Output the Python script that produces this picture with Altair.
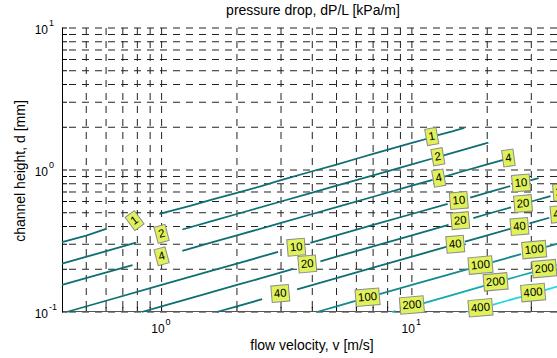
import altair as alt
import pandas as pd

# ---------------- values ----------------
levels = ["1", "2", "4", "10", "20", "40", "100", "200", "400"]

# contour segments: (flow velocity v [m/s], channel height d [mm])
seg_1 = [
    [(0.40, 0.310), (0.50, 0.345), (0.60, 0.385)],
    [(0.98, 0.490), (1.30, 0.560), (1.60, 0.620), (2.0, 0.690), (2.5, 0.770), (3.0, 0.850),
     (4.0, 0.980), (5.0, 1.090), (6.0, 1.200), (7.0, 1.300), (8.5, 1.430), (10.0, 1.550), (11.5, 1.660)],
    [(12.6, 1.750), (14.5, 1.870), (16.2, 1.980)],
]
seg_2 = [
    [(0.40, 0.219), (0.55, 0.257), (0.79, 0.308)],
    [(1.21, 0.381), (1.6, 0.438), (2.0, 0.490), (3.0, 0.600), (4.0, 0.693), (5.0, 0.775),
     (7.0, 0.917), (10.0, 1.095), (12.0, 1.200)],
    [(13.4, 1.268), (16.0, 1.386), (20.2, 1.557)],
]
seg_4 = [
    [(0.40, 0.155), (0.55, 0.182), (0.765, 0.214)],
    [(1.21, 0.269), (1.6, 0.310), (2.0, 0.346), (3.0, 0.424), (4.0, 0.490), (5.0, 0.548),
     (7.0, 0.648), (10.0, 0.775), (12.1, 0.852)],
    [(13.4, 0.896), (16.0, 0.980), (20.0, 1.095), (23.2, 1.180)],
]
seg_10 = [
    [(0.417, 0.100), (0.6, 0.120), (1.0, 0.155), (1.5, 0.190), (2.0, 0.219), (2.5, 0.245), (2.92, 0.265)],
    [(3.93, 0.307), (5.0, 0.346), (7.0, 0.410), (10.0, 0.490), (13.9, 0.578)],
    [(17.1, 0.640), (20.0, 0.693), (24.7, 0.770)],
    [(29.7, 0.844), (32.1, 0.878)],
]
seg_20 = [
    [(0.833, 0.100), (1.0, 0.1095), (1.5, 0.134), (2.0, 0.155), (2.5, 0.173), (3.36, 0.201)],
    [(4.31, 0.227), (5.0, 0.245), (7.0, 0.290), (10.0, 0.346), (14.0, 0.410)],
    [(17.6, 0.459), (20.0, 0.490), (24.9, 0.546)],
    [(30.0, 0.600), (35.8, 0.655)],
]
seg_40 = [
    [(1.66, 0.100), (2.0, 0.1095), (2.52, 0.123)],
    [(3.48, 0.1445), (5.0, 0.173), (7.0, 0.205), (10.0, 0.245), (13.7, 0.287)],
    [(16.3, 0.313), (20.0, 0.346), (24.9, 0.387)],
    [(29.5, 0.421), (35.4, 0.461)],
]
seg_100 = [
    [(4.17, 0.100), (5.0, 0.1095), (5.96, 0.1196)],
    [(7.37, 0.133), (10.0, 0.155), (13.0, 0.177), (16.9, 0.201)],
    [(21.0, 0.2245), (24.0, 0.240), (27.3, 0.256)],
    [(34.4, 0.287), (40.0, 0.310)],
]
seg_200 = [
    [(8.33, 0.100), (8.6, 0.1015)],
    [(11.07, 0.1152), (14.0, 0.1296), (19.4, 0.1526)],
    [(24.2, 0.1704), (27.0, 0.180), (30.5, 0.191)],
    [(37.8, 0.213), (40.0, 0.219)],
]
seg_400 = [
    [(16.7, 0.100), (17.2, 0.1016)],
    [(21.0, 0.1122), (24.0, 0.120), (27.3, 0.128)],
    [(33.7, 0.142), (40.0, 0.155)],
]
segments = [seg_1, seg_2, seg_4, seg_10, seg_20, seg_40, seg_100, seg_200, seg_400]

# contour labels
label_text = ["1", "1", "2", "2", "4", "4", "4", "10", "10", "10", "20", "20", "20", "20",
              "40", "40", "40", "40", "100", "100", "100", "200", "200", "200", "400", "400"]
label_v = [0.78, 12.0, 1.0, 12.7, 1.0, 12.8, 24.3, 3.45, 15.4, 27.3, 3.82, 15.6, 27.8, 39.8,
           2.98, 14.9, 26.9, 38.9, 6.65, 18.8, 30.8, 10.0, 21.6, 33.8, 18.8, 30.5]
label_d = [0.44, 1.72, 0.355, 1.24, 0.247, 0.877, 1.215, 0.286, 0.61, 0.81, 0.218, 0.44, 0.58, 0.70,
           0.135, 0.30, 0.40, 0.489, 0.127, 0.214, 0.275, 0.112, 0.163, 0.202, 0.107, 0.137]

# axis ticks
x_grid = [0.5, 0.6, 0.7, 0.8, 0.9, 1, 2, 3, 4, 5, 6, 7, 8, 9, 10, 20, 30]
y_grid = [0.1, 0.2, 0.3, 0.4, 0.5, 0.6, 0.7, 0.8, 0.9, 1, 2, 3, 4, 5, 6, 7, 8, 9, 10]
x_tick_vals = [1, 10]
x_tick_exp = ["0", "1"]
y_tick_vals = [0.1, 1, 10]
y_tick_exp = ["-1", "0", "1"]

# ---------------- styling ----------------
FONT = "Liberation Sans"
W, H = 495, 284
line_colors = ["#106f70"] * 6 + ["#128a8c", "#15a8aa", "#20d8e2"]
label_tilt = [324, 350, 345, 350, 345, 350, 352] + [355] * 19

xs = alt.Scale(type="log", domain=[0.4, 38.0], nice=False)
ys = alt.Scale(type="log", domain=[0.1, 10], nice=False)

rows = []
for lev, segs in zip(levels, segments):
    for i, seg in enumerate(segs):
        for k, (v, d) in enumerate(seg):
            rows.append({"level": lev, "seg": f"{lev}-{i}", "k": k, "v": v, "d": d})
lines_df = pd.DataFrame(rows)


def box_shape(n):
    w = 6.2 * n + 5.2
    h = 16.5 / w
    return f"M-1,{-h:.4f}L1,{-h:.4f}L1,{h:.4f}L-1,{h:.4f}Z", w * w


lab_df = pd.DataFrame({"text": label_text, "v": label_v, "d": label_d, "angle": label_tilt})
lab_df["shape"] = [box_shape(len(t))[0] for t in label_text]
lab_df["size"] = [box_shape(len(t))[1] for t in label_text]

X = alt.X("v:Q", scale=xs, axis=None)
Y = alt.Y("d:Q", scale=ys, axis=None)
one = pd.DataFrame({"k": [0]})

vgrid = alt.Chart(pd.DataFrame({"v": x_grid})).mark_rule(
    color="#222222", strokeWidth=1, strokeDash=[7, 6]).encode(x=X)
hgrid = alt.Chart(pd.DataFrame({"d": y_grid})).mark_rule(
    color="#222222", strokeWidth=1, strokeDash=[7, 6]).encode(y=Y)

yticks = alt.Chart(pd.DataFrame({"d": y_grid})).mark_rule(color="black", strokeWidth=1).encode(
    y=Y, x=alt.value(0), x2=alt.value(5))
xticks = alt.Chart(pd.DataFrame({"v": x_grid})).mark_rule(color="black", strokeWidth=1).encode(
    x=X, y=alt.value(H), y2=alt.value(H - 5))

left_axis = alt.Chart(one).mark_rule(color="black", strokeWidth=1).encode(
    x=alt.value(0.5), y=alt.value(0), y2=alt.value(H))
bottom_axis = alt.Chart(one).mark_rule(color="#555555", strokeWidth=1).encode(
    y=alt.value(H - 0.5), x=alt.value(0), x2=alt.value(W))

lines = alt.Chart(lines_df).mark_line(strokeWidth=1.8).encode(
    x=X, y=Y,
    color=alt.Color("level:N", scale=alt.Scale(domain=levels, range=line_colors), legend=None),
    detail="seg:N",
    order="k:Q",
)

boxes = alt.Chart(lab_df).mark_point(
    filled=True, fill="#e0f25a", stroke="#8c8c8c", strokeWidth=1, opacity=1, fillOpacity=1
).encode(
    x=X, y=Y,
    shape=alt.Shape("shape:N", scale=None),
    size=alt.Size("size:Q", scale=None),
    angle=alt.Angle("angle:Q", scale=None),
)
texts = alt.Chart(lab_df).mark_text(
    font=FONT, fontSize=11.5, align="center", baseline="middle", color="black", dy=0.5
).encode(x=X, y=Y, text="text:N", angle=alt.Angle("angle:Q", scale=None))

xt_df = pd.DataFrame({"v": x_tick_vals, "e": x_tick_exp})
yt_df = pd.DataFrame({"d": y_tick_vals, "e": y_tick_exp})
xt_base = alt.Chart(xt_df).mark_text(
    text="10", font=FONT, fontSize=12, align="right", baseline="alphabetic", dx=3, color="black"
).encode(x=X, y=alt.value(H + 21))
xt_exp = alt.Chart(xt_df).mark_text(
    font=FONT, fontSize=9, align="left", baseline="alphabetic", dx=4, color="black"
).encode(x=X, y=alt.value(H + 13), text="e:N")
yt_base = alt.Chart(yt_df).mark_text(
    text="10", font=FONT, fontSize=12, align="right", baseline="middle", dy=1.5, color="black"
).encode(x=alt.value(-14), y=Y)
yt_exp = alt.Chart(yt_df).mark_text(
    font=FONT, fontSize=9, align="left", baseline="middle", dy=-5, color="black"
).encode(x=alt.value(-13), y=Y, text="e:N")

title = alt.Chart(one).mark_text(
    text="pressure drop, dP/L [kPa/m]", font=FONT, fontSize=14, align="center",
    baseline="alphabetic", color="black"
).encode(x=alt.value(251), y=alt.value(-13))
xtitle = alt.Chart(one).mark_text(
    text="flow velocity, v [m/s]", font=FONT, fontSize=14, align="center",
    baseline="alphabetic", color="black"
).encode(x=alt.value(250), y=alt.value(322))
ytitle = alt.Chart(one).mark_text(
    text="channel height, d [mm]", font=FONT, fontSize=14, align="center",
    baseline="middle", angle=270, color="black"
).encode(x=alt.value(-41.5), y=alt.value(143))

chart = alt.layer(
    hgrid, vgrid, yticks, xticks, bottom_axis, left_axis, lines, boxes, texts,
    xt_base, xt_exp, yt_base, yt_exp, title, xtitle, ytitle
).properties(
    width=W, height=H,
    padding={"left": 62, "top": 28, "right": 0, "bottom": 46},
    autosize=alt.AutoSizeParams(type="none"),
    background="white",
).configure_view(stroke="transparent")

chart.save("out.html", embed_options={"renderer": "svg", "actions": False})
